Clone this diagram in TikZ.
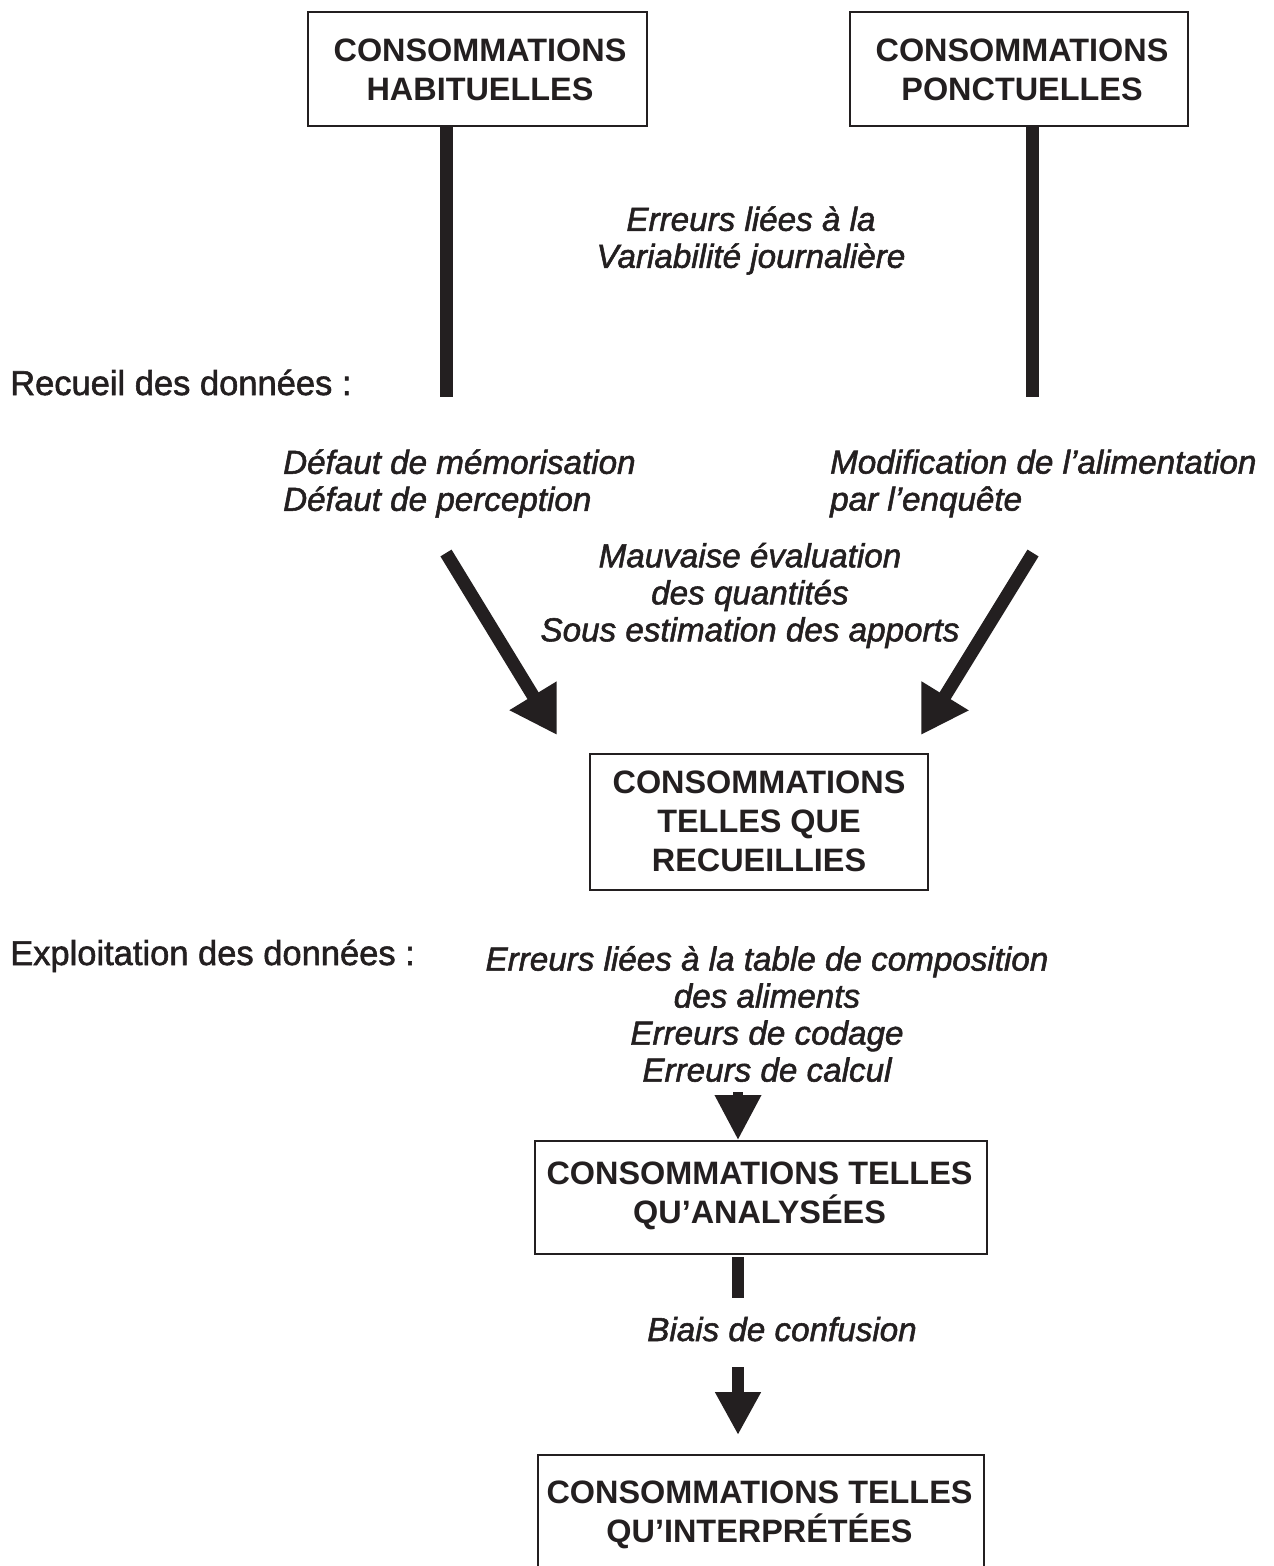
\documentclass[tikz,border=0pt]{standalone}
\usepackage{fontspec}
\setmainfont{Liberation Sans}
\newfontfamily\heavysans{Liberation Sans}[FakeBold=1.6]
\usetikzlibrary{arrows.meta}
\definecolor{ink}{HTML}{231F20}
\begin{document}
\begin{tikzpicture}[x=1pt,y=-1pt,
  box/.style={draw=ink, line width=2pt, inner sep=0pt},
  boxtext/.style={font=\fontsize{32.4}{39}\selectfont\bfseries, align=center, inner sep=0pt, text=ink},
  errtext/.style={font=\heavysans\fontsize{33.2}{37}\selectfont\itshape, inner sep=0pt, text=ink},
  phase/.style={font=\heavysans\fontsize{34.5}{40}\selectfont, inner sep=0pt, text=ink, anchor=base west},
  bar/.style={line width=13pt, draw=ink},
  bigarrow/.style={line width=13pt, draw=ink, -{Triangle[length=46pt,width=52pt]}},
  midarrow/.style={line width=12pt, draw=ink, -{Triangle[length=43pt,width=43pt]}},
  smallarrow/.style={line width=10pt, draw=ink, -{Triangle[length=45pt,width=44pt]}}
]
\useasboundingbox (0,0) rectangle (1274,1566);
\fill[white] (0,0) rectangle (1274,1566);

% boxes
\node[box, minimum width=339pt, minimum height=114pt] (hab) at (477.5,69) {};
\node[box, minimum width=338pt, minimum height=114pt] (ponc) at (1019,69) {};
\node[box, minimum width=338pt, minimum height=136pt] (recu) at (759,822) {};
\node[box, minimum width=452pt, minimum height=113pt] (anal) at (761,1197.5) {};
\node[box, minimum width=446pt, minimum height=113pt] (interp) at (760.5,1511.5) {};

% box texts
\node[boxtext] (habt) at (480,69.5) {CONSOMMATIONS\\HABITUELLES};
\node[boxtext] (ponct) at (1022,69.5) {CONSOMMATIONS\\PONCTUELLES};
\node[boxtext] (recut) at (759,821) {CONSOMMATIONS\\TELLES QUE\\RECUEILLIES};
\node[boxtext] (analt) at (759.5,1196) {CONSOMMATIONS TELLES\\QU’ANALYSÉES};
\node[boxtext] (interpt) at (759.5,1515) {CONSOMMATIONS TELLES\\QU’INTERPRÉTÉES};

% phase labels
\node[phase] (recueil) at (10,395) {Recueil des données :};
\node[phase] (exploit) at (10,965) {Exploitation des données :};

% error labels
\node[errtext, align=center] (var) at (751,240.5) {Erreurs liées à la\\Variabilité journalière};
\node[errtext, align=left, anchor=west] (defaut) at (283,483.5) {Défaut de mémorisation\\Défaut de perception};
\node[errtext, align=left, anchor=west] (modif) at (830,483.5) {Modification de l’alimentation\\par l’enquête};
\node[errtext, align=center] (mauv) at (750,595.5) {Mauvaise évaluation\\des quantités\\Sous estimation des apports};
\node[errtext, align=center] (table) at (767,1014) {Erreurs liées à la table de composition\\des aliments\\Erreurs de codage\\Erreurs de calcul};
\node[errtext, anchor=base] (biais) at (782,1341) {Biais de confusion};

% vertical bars from the top boxes
\coordinate (habend) at (446.5,397);
\coordinate (poncend) at (1032,397);
\draw[bar] (hab.south -| habend) -- (habend);
\draw[bar] (ponc.south -| poncend) -- (poncend);

% diagonal arrows towards the collected box
\coordinate (lstart) at (446,553);
\coordinate (ltip) at (557,735);
\coordinate (rstart) at (1033,553);
\coordinate (rtip) at (921,735);
\draw[bigarrow] (lstart) -- (ltip);
\draw[bigarrow] (rstart) -- (rtip);

% small arrow into analysed box
\coordinate (atop) at (738,1092);
\draw[smallarrow] (atop) -- (anal.north -| atop);

% stub and arrow to interpreted box
\coordinate (s1) at (738,1257);
\coordinate (s2) at (738,1298);
\draw[bar, line width=12pt] (s1) -- (s2);
\coordinate (b1) at (738,1367);
\coordinate (b2) at (738,1435);
\draw[midarrow] (b1) -- (b2);
\end{tikzpicture}
\end{document}
